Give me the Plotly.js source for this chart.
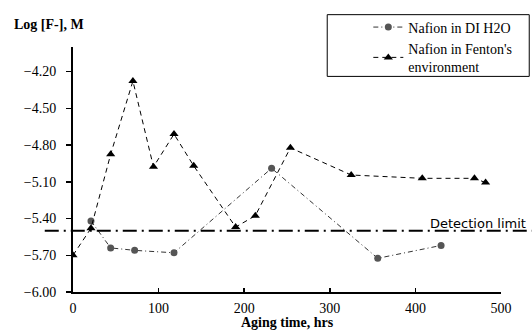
<!DOCTYPE html>
<html>
<head>
<meta charset="utf-8">
<script src="https://cdn.plot.ly/plotly-3.0.1.min.js"></script>
<style>html,body{margin:0;padding:0;background:#fff;}#chart{width:532px;height:333px;}</style>
</head>
<body>
<div id="chart"></div>
<script>
// Nafion in DI H2O
const diHours = [21, 44, 72, 118, 232, 356, 430];
const diLogF = [-5.42, -5.64, -5.66, -5.68, -4.99, -5.725, -5.62];
// Nafion in Fenton's environment
const fentonHours = [0, 21, 44, 70, 94, 118, 141, 190, 213, 254, 325, 408, 469, 482];
const fentonLogF = [-5.70, -5.48, -4.876, -4.278, -4.978, -4.711, -4.970, -5.47, -5.377, -4.823, -5.045, -5.072, -5.072, -5.107];
const detectionLimit = -5.5;
const yTicks = [-6.0, -5.7, -5.4, -5.1, -4.8, -4.5, -4.2];
const xTicks = [0, 100, 200, 300, 400, 500];

const serif = "Liberation Serif";

const traces = [
  {
    x: diHours, y: diLogF, name: "Nafion in DI H2O",
    type: "scatter", mode: "lines+markers",
    line: {color: "#333", width: 1, dash: "5px,3px,1px,3px"},
    marker: {symbol: "circle", size: 7, color: "#555"}
  },
  {
    x: fentonHours, y: fentonLogF, name: "Nafion in Fenton's<br>environment",
    type: "scatter", mode: "lines+markers",
    line: {color: "#000", width: 1, dash: "5px,4px"},
    marker: {symbol: "triangle-up", size: 8, color: "#000"}
  }
];

const layout = {
  width: 532, height: 333,
  margin: {l: 73, r: 31, t: 43, b: 41},
  paper_bgcolor: "#fff", plot_bgcolor: "#fff",
  font: {family: serif, size: 14, color: "#000"},
  showlegend: true,
  legend: {
    x: 0.69, xanchor: "left", y: 1.145, yanchor: "top",
    bgcolor: "rgba(0,0,0,0)", borderwidth: 0,
    font: {family: serif, size: 14, color: "#000"},
    tracegroupgap: 0, itemwidth: 30
  },
  xaxis: {
    range: [0, 500], tickvals: xTicks, ticktext: xTicks.map(String),
    ticks: "inside", ticklen: 4, tickwidth: 1.5, tickcolor: "#000",
    showline: true, linecolor: "#000", linewidth: 2,
    showgrid: false, zeroline: false, ticklabelstandoff: 2,
    tickfont: {family: serif, size: 14, color: "#000"}
  },
  yaxis: {
    range: [-6.0, -4.0], tickvals: yTicks, tickformat: ".2f",
    ticks: "outside", ticklen: 5, tickwidth: 1.5, tickcolor: "#000",
    showline: true, linecolor: "#000", linewidth: 2,
    showgrid: false, zeroline: false, ticklabelstandoff: 7,
    tickfont: {family: serif, size: 14, color: "#000"}
  },
  shapes: [
    {type: "line", xref: "paper", yref: "y", x0: -0.066, x1: 1.08, y0: detectionLimit, y1: detectionLimit,
     line: {color: "#000", width: 2, dash: "14px,5px,2px,5px"}},
    {type: "rect", xref: "paper", yref: "paper", x0: 0.594, x1: 1.066, y0: 0.88, y1: 1.132,
     line: {color: "#000", width: 1}, fillcolor: "rgba(0,0,0,0)"}
  ],
  annotations: [
    {text: "<b>Log [F-], M</b>", xref: "paper", yref: "paper", x: -0.143, y: 1.09,
     xanchor: "left", yanchor: "middle", showarrow: false, font: {family: serif, size: 14, color: "#000"}},
    {text: "<b>Aging time, hrs</b>", xref: "paper", yref: "paper", x: 0.5, y: -0.163,
     xanchor: "center", yanchor: "bottom", showarrow: false, font: {family: serif, size: 14, color: "#000"}},
    {text: "Detection limit", xref: "paper", yref: "y", x: 1.064, y: -5.44,
     xanchor: "right", yanchor: "middle", showarrow: false,
     font: {family: "DejaVu Sans", size: 13, color: "#000"}}
  ]
};

Plotly.newPlot("chart", traces, layout, {staticPlot: true, displayModeBar: false});
</script>
</body>
</html>
